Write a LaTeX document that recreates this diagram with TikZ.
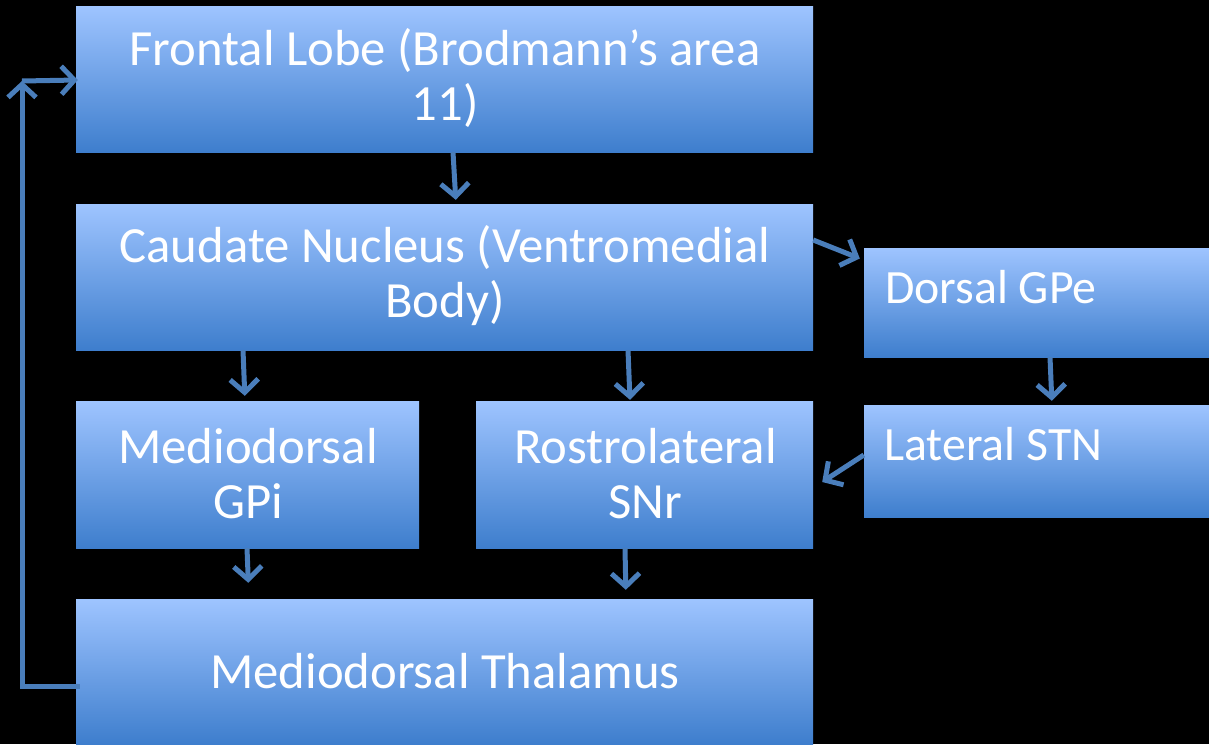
\documentclass[tikz,border=0pt]{standalone}
\usepackage{fontspec}
\setmainfont{Carlito}
\usetikzlibrary{arrows.meta}
\definecolor{arrowblue}{RGB}{74,126,187}
\definecolor{boxtop}{RGB}{158,196,255}
\definecolor{boxbot}{RGB}{62,126,205}
\tikzset{
  box/.style={draw=none, rectangle, inner sep=0pt, top color=boxtop, bottom color=boxbot},
  txt/.style={text=white, inner sep=0pt, font=\fontsize{50.7}{55}\selectfont, align=center},
  ltxt/.style={text=white, inner sep=0pt, font=\fontsize{47.8}{55}\selectfont, anchor=base west},
  arr/.style={draw=arrowblue, line width=5pt, -{Straight Barb[length=13pt,width=28pt]}},
}
\begin{document}
\begin{tikzpicture}[x=1pt,y=-1pt]
\fill[black] (0,0) rectangle (1209,744);
\useasboundingbox (0,0) rectangle (1209,744);
% boxes
\node[box, minimum width=737pt, minimum height=146pt] (front) at (444.5,79) {};
\node[box, minimum width=737pt, minimum height=146pt] (caud) at (444.5,277) {};
\node[box, minimum width=345pt, minimum height=109pt] (gpe) at (1036.5,302.5) {};
\node[box, minimum width=343pt, minimum height=147pt] (gpi) at (247.5,474.5) {};
\node[box, minimum width=337pt, minimum height=147pt] (snr) at (644.5,474.5) {};
\node[box, minimum width=345pt, minimum height=112pt] (stn) at (1036.5,461) {};
\node[box, minimum width=737pt, minimum height=145pt] (thal) at (444.5,671.5) {};
% texts
\node[txt] (tfront) at (445,78) {Frontal Lobe (Brodmann’s area\\11)};
\node[txt] (tcaud) at (445,276) {Caudate Nucleus (Ventromedial\\Body)};
\node[ltxt] (tgpe) at (885,303) {Dorsal GPe};
\node[txt] (tgpi) at (248,474) {Mediodorsal\\GPi};
\node[txt] (tsnr) at (645.5,474) {Rostrolateral\\SNr};
\node[ltxt] (tstn) at (884,460) {Lateral STN};
\node[txt, anchor=base] (tthal) at (445,688) {Mediodorsal Thalamus};
% connectors
\draw[arr, shorten >=4pt] ([xshift=8.5pt]front.south) -- ([xshift=11.5pt]caud.north);
\draw[arr] ([yshift=37pt]caud.east) -- ([xshift=-4pt,yshift=44pt]gpe.west);
\draw[arr, shorten >=5pt] ([xshift=-201.5pt]caud.south) -- ([xshift=-2.5pt]gpi.north);
\draw[arr, shorten >=1pt] ([xshift=183.5pt]caud.south) -- ([xshift=-14.5pt]snr.north);
\draw[arr, shorten >=4pt] ([xshift=13.5pt]gpe.south) -- ([xshift=15.5pt]stn.north);
\draw[arr] ([yshift=6pt]stn.west) -- ([xshift=9pt,yshift=-7.5pt]snr.east);
\draw[arr, shorten >=16pt] ([xshift=-0.5pt]gpi.south) -- ([xshift=-195.5pt]thal.north);
\draw[arr, shorten >=9pt] ([xshift=-19.5pt]snr.south) -- ([xshift=181.5pt]thal.north);
\coordinate (c1) at (22,686);
\coordinate (c2) at (22,81);
\draw[arr, line join=miter] ([xshift=4pt,yshift=-14.5pt]thal.west) -- (c1) -- (c2);
\draw[arr] (c2) -- ([xshift=2pt,yshift=-1pt]front.west);
\end{tikzpicture}
\end{document}
